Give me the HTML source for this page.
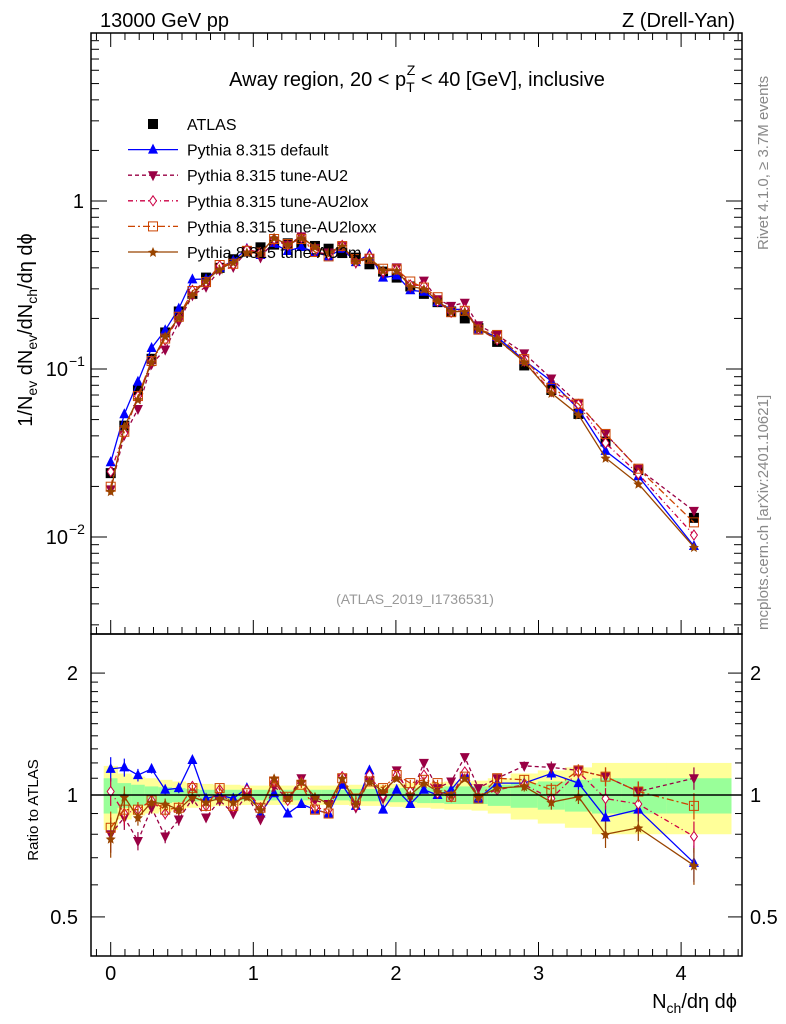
<!DOCTYPE html>
<html><head><meta charset="utf-8"><style>
body{margin:0;background:#fff}
svg{display:block;font-family:"Liberation Sans",sans-serif}
</style></head><body>
<svg id="c" width="786" height="1024" viewBox="0 0 786 1024">
<g id="bands"></g>
<g id="marks"></g>
<g id="axes" stroke="#000" fill="none"></g>
<text x="100" y="27" font-size="20">13000 GeV pp</text>
<text x="735" y="27" font-size="20" text-anchor="end">Z (Drell-Yan)</text>
<text x="417" y="86" font-size="20" text-anchor="middle">Away region, 20 &lt; p<tspan font-size="14" dy="6">T</tspan><tspan font-size="14" dx="-8" dy="-17">Z</tspan><tspan dy="11"> &lt; 40 [GeV], inclusive</tspan></text>
<text x="415" y="604" font-size="14" fill="#999" text-anchor="middle">(ATLAS_2019_I1736531)</text>
<text transform="translate(768,250) rotate(-90)" font-size="15" fill="#888">Rivet 4.1.0, ≥ 3.7M events</text>
<text transform="translate(768,630) rotate(-90)" font-size="15" fill="#888">mcplots.cern.ch [arXiv:2401.10621]</text>
<text transform="translate(32,330) rotate(-90)" font-size="20" text-anchor="middle">1/N<tspan font-size="14" dy="5">ev</tspan><tspan dy="-5"> dN</tspan><tspan font-size="14" dy="5">ev</tspan><tspan dy="-5">/dN</tspan><tspan font-size="14" dy="5">ch</tspan><tspan dy="-5">/dη dϕ</tspan></text>
<text transform="translate(38,810) rotate(-90)" font-size="15" text-anchor="middle">Ratio to ATLAS</text>
<text x="737" y="1008" font-size="20" text-anchor="end">N<tspan font-size="14" dy="5">ch</tspan><tspan dy="-5">/dη dϕ</tspan></text>
<g id="legend"></g>
</svg>
<script>
const xs=[0,0.0955,0.191,0.2865,0.382,0.4775,0.573,0.6685,0.764,0.8595,0.955,1.0505,1.146,1.2415,1.337,1.4325,1.528,1.6235,1.719,1.8145,1.91,2.0055,2.101,2.1965,2.292,2.3875,2.483,2.5785,2.71,2.90,3.09,3.28,3.47,3.70,4.09];
const dataVals=[0.024,0.046,0.075,0.115,0.165,0.22,0.28,0.35,0.40,0.45,0.50,0.53,0.55,0.56,0.56,0.54,0.52,0.49,0.46,0.42,0.38,0.35,0.31,0.28,0.25,0.22,0.20,0.175,0.145,0.105,0.075,0.054,0.037,0.025,0.013];
const rDefault=[1.16,1.17,1.12,1.16,1.03,1.04,1.22,0.98,1.0,0.98,1.04,0.9,1.01,0.9,0.95,0.92,0.9,1.06,0.94,1.15,0.92,1.03,0.95,1.03,1.0,1.03,1.13,0.98,1.07,1.07,1.13,1.07,0.88,0.92,0.68];
const rAU2=[0.8,0.88,0.77,0.93,0.79,0.87,0.98,0.88,0.97,0.9,1.0,0.87,1.05,0.98,1.1,0.97,0.95,1.1,0.93,1.09,0.98,1.15,0.99,1.2,1.04,1.08,1.24,1.04,1.1,1.18,1.17,1.15,1.11,1.02,1.1];
const rAU2lox=[1.02,0.9,0.92,0.97,0.9,0.92,1.05,0.94,1.03,0.93,1.03,0.93,1.08,0.97,1.08,0.93,0.92,1.11,0.94,1.12,1.0,1.12,1.02,1.12,1.01,0.99,1.14,0.99,1.03,1.06,0.98,1.14,0.98,0.95,0.79];
const rAU2loxx=[0.83,0.92,0.92,0.97,0.92,0.93,1.04,0.94,1.04,0.94,1.01,0.93,1.08,0.99,1.06,0.92,0.9,1.1,0.98,1.08,1.04,1.12,1.07,1.09,1.07,0.99,1.11,0.98,1.1,1.09,1.03,1.15,1.11,1.02,0.94];
const rAU2m=[0.78,0.99,0.88,0.96,0.95,0.92,0.99,0.96,0.98,0.96,0.99,0.92,1.1,0.98,1.08,0.99,0.95,1.1,0.95,1.08,1.02,1.1,1.0,1.07,1.02,1.0,1.1,0.99,1.04,1.05,0.96,0.99,0.8,0.83,0.67];
const ratioErr=[0.08,0.06,0.04,0.03,0.03,0.03,0.02,0.02,0.02,0.02,0.02,0.02,0.02,0.02,0.02,0.02,0.02,0.02,0.02,0.02,0.02,0.02,0.02,0.02,0.02,0.02,0.02,0.02,0.03,0.03,0.04,0.04,0.06,0.06,0.07];
const bandTot=[0.18,0.13,0.11,0.1,0.09,0.08,0.07,0.065,0.06,0.06,0.055,0.055,0.055,0.055,0.055,0.055,0.055,0.055,0.06,0.06,0.06,0.065,0.07,0.07,0.075,0.08,0.08,0.085,0.1,0.13,0.15,0.17,0.2,0.2,0.2];
const bandStat=[0.1,0.07,0.06,0.05,0.045,0.04,0.035,0.03,0.03,0.03,0.03,0.03,0.03,0.03,0.03,0.03,0.03,0.03,0.035,0.035,0.035,0.04,0.04,0.045,0.045,0.05,0.05,0.05,0.06,0.07,0.08,0.09,0.1,0.1,0.1];
const xTicks=[0,1,2,3,4];

const NS="http://www.w3.org/2000/svg";
const X=v=>110.7+142.6*v;
const Ym=v=>201-168*Math.log10(v);
const Yr=v=>795-405*Math.log10(v);
const L=91,R=742,T=33,MB=634,B=956;
function el(tag,attrs,parent){const e=document.createElementNS(NS,tag);for(const k in attrs)e.setAttribute(k,attrs[k]);parent.appendChild(e);return e;}
const axes=document.getElementById('axes'),marks=document.getElementById('marks'),bands=document.getElementById('bands'),leg=document.getElementById('legend');

for(let i=0;i<xs.length;i++){
  const lo=i===0?X(xs[0])-7:(X(xs[i-1])+X(xs[i]))/2;
  const hi=i===xs.length-1?731:(X(xs[i])+X(xs[i+1]))/2;
  const y=el('rect',{x:lo,y:Yr(1+bandTot[i]),width:hi-lo+0.5,height:Yr(1-bandTot[i])-Yr(1+bandTot[i]),fill:'#ffff99'},bands);
  
  
  const g=el('rect',{x:lo,y:Yr(1+bandStat[i]),width:hi-lo+0.5,height:Yr(1-bandStat[i])-Yr(1+bandStat[i]),fill:'#99ff99'},bands);
  
  
}

el('rect',{x:L,y:T,width:R-L,height:MB-T,'stroke-width':1.5},axes);
el('rect',{x:L,y:MB,width:R-L,height:B-MB,'stroke-width':1.5},axes);
el('line',{x1:L,x2:R,y1:Yr(1),y2:Yr(1),'stroke-width':1.5},axes);
for(let v=-0.1;v<=4.4;v+=0.1){const vv=Math.round(v*10)/10;const major=Math.abs(vv-Math.round(vv))<1e-6;const len=major?14:7;const x=X(vv);if(x<L||x>R)continue;
  for(const [y0,dir] of [[MB,-1],[T,1],[B,-1]]) el('line',{x1:x,x2:x,y1:y0,y2:y0+dir*len},axes);}
for(let d=-3;d<=1;d++){for(let m=1;m<10;m++){const v=m*Math.pow(10,d);const y=Ym(v);if(y<T||y>MB)continue;const len=m===1?16:8;
  el('line',{x1:L,x2:L+len,y1:y,y2:y},axes);el('line',{x1:R,x2:R-len,y1:y,y2:y},axes);}}
for(const v of [0.4,0.5,0.6,0.7,0.8,0.9,1,1.1,1.2,1.3,1.4,1.5,1.6,1.7,1.8,1.9,2,3]){const y=Yr(v);if(y<MB||y>B)continue;const len=(v===0.5||v===1||v===2)?14:7;
  el('line',{x1:L,x2:L+len,y1:y,y2:y},axes);el('line',{x1:R,x2:R-len,y1:y,y2:y},axes);}
const svg=document.getElementById('c');
function txt(x,y,s,anchor,size,name){const t=el('text',{x:x,y:y,'font-size':size,'text-anchor':anchor},svg);t.textContent=s;return t;}
xTicks.forEach(v=>txt(X(v),980,String(v),'middle',20,'x-tick-label'));
txt(84,208,'1','end',20,'y-tick-label');
[[-1,Ym(0.1)],[-2,Ym(0.01)]].forEach(([p,y])=>{const t=txt(68,y+7,'10','end',20,'y-tick-label');const s=el('text',{x:69,y:y-3,'font-size':14},svg);s.textContent='−'+(-p);});
[[2,'2'],[1,'1'],[0.5,'0.5']].forEach(([v,s])=>{txt(78,Yr(v)+7,s,'end',20,'ratio-tick-label');txt(750,Yr(v)+7,s,'start',20,'ratio-tick-label-right');});

const series=[
 {name:'default',r:rDefault,color:'#0000ff',dash:'',m:'tri'},
 {name:'au2',r:rAU2,color:'#990044',dash:'4,3',m:'itri'},
 {name:'au2lox',r:rAU2lox,color:'#cc0044',dash:'5,3,1,3',m:'dia'},
 {name:'au2loxx',r:rAU2loxx,color:'#cc4400',dash:'7,3,2,3',m:'sq'},
 {name:'au2m',r:rAU2m,color:'#994400',dash:'',m:'star'}];
function marker(kind,x,y,c,parent){
  let e;
  if(kind==='tri')e=el('path',{d:`M${x-5},${y+4}L${x+5},${y+4}L${x},${y-6}Z`,fill:c},parent);
  else if(kind==='itri')e=el('path',{d:`M${x-5},${y-4}L${x+5},${y-4}L${x},${y+6}Z`,fill:c},parent);
  else if(kind==='dia')e=el('path',{d:`M${x},${y-5}L${x+3.5},${y}L${x},${y+5}L${x-3.5},${y}Z`,fill:'#fff',stroke:c},parent);
  else if(kind==='sq')e=el('rect',{x:x-4.5,y:y-4.5,width:9,height:9,fill:'none',stroke:c},parent);
  else if(kind==='star')e=el('path',{d:`M${x},${y-5}L${x+1.5},${y-1.5}L${x+5},${y-1}L${x+2.2},${y+1.5}L${x+3},${y+5}L${x},${y+3}L${x-3},${y+5}L${x-2.2},${y+1.5}L${x-5},${y-1}L${x-1.5},${y-1.5}Z`,fill:c},parent);
  else e=el('rect',{x:x-5,y:y-5,width:10,height:10,fill:c},parent);
  return e;
}
dataVals.forEach((v,i)=>{const m=marker('blk',X(xs[i]),Ym(v),'#000',marks);});
series.forEach(s=>{
  const mainPts=xs.map((x,i)=>[X(x),Ym(dataVals[i]*s.r[i])]);
  const ratPts=xs.map((x,i)=>[X(x),Yr(s.r[i])]);
  xs.forEach((x,i)=>{
    const e=el('line',{x1:X(x),x2:X(x),y1:Yr(s.r[i]+ratioErr[i]),y2:Yr(s.r[i]-ratioErr[i]),stroke:s.color,'stroke-width':1.2},marks);
    
    
  });
  [mainPts,ratPts].forEach((pts,k)=>{
    const p=el('polyline',{points:pts.map(p=>p.join(',')).join(' '),fill:'none',stroke:s.color,'stroke-width':1.3,'stroke-dasharray':s.dash},marks);
    
    
    pts.forEach(([x,y])=>{const m=marker(s.m,x,y,s.color,marks);});
  });
});

const labels=['ATLAS','Pythia 8.315 default','Pythia 8.315 tune-AU2','Pythia 8.315 tune-AU2lox','Pythia 8.315 tune-AU2loxx','Pythia 8.315 tune-AU2m'];
labels.forEach((lab,i)=>{
  const y=124+i*25.6;
  if(i===0){const m=marker('blk',153,y,'#000',leg);}
  else{const s=series[i-1];const l=el('line',{x1:128,x2:178,y1:y,y2:y,stroke:s.color,'stroke-width':1.3,'stroke-dasharray':s.dash},leg);const m=marker(s.m,153,y,s.color,leg);}
  const t=el('text',{x:187,y:y+6,'font-size':16},leg);t.textContent=lab;
  
  
});
</script>
</body></html>
